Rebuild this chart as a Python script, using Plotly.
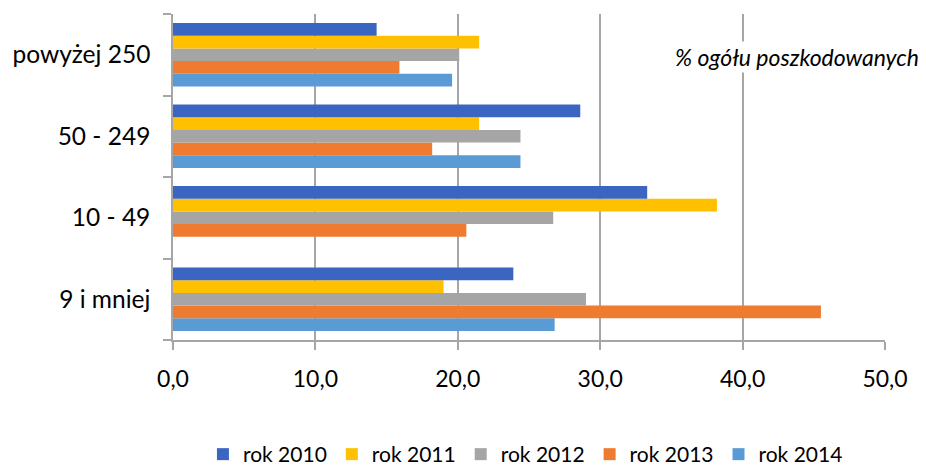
import plotly.graph_objects as go

categories = ["9 i mniej", "10 - 49", "50 - 249", "powyżej 250"]
series_names = ["rok 2010", "rok 2011", "rok 2012", "rok 2013", "rok 2014"]
rok_2010 = [23.9, 33.3, 28.6, 14.3]
rok_2011 = [19.0, 38.2, 21.5, 21.5]
rok_2012 = [29.0, 26.7, 24.4, 20.1]
rok_2013 = [45.5, 20.6, 18.2, 15.9]
rok_2014 = [26.8, None, 24.4, 19.6]
x_ticks = [0, 10, 20, 30, 40, 50]

colors = ["#3A66C2", "#FFC000", "#A5A5A5", "#EE7B30", "#5B9BD5"]
values = [rok_2010, rok_2011, rok_2012, rok_2013, rok_2014]

fig = go.Figure()
for name, vals, col in reversed(list(zip(series_names, values, colors))):
    fig.add_trace(go.Bar(
        y=categories, x=vals, name=name, orientation="h",
        marker=dict(color=col, line=dict(width=0)),
    ))

font_family = "Lato, 'Open Sans', sans-serif"
fig.update_layout(
    width=926, height=470,
    margin=dict(l=165, r=49, t=6, b=138),
    paper_bgcolor="white", plot_bgcolor="white",
    barmode="group", bargap=0.22, bargroupgap=0,
    separators=",.",
    font=dict(family=font_family, size=22, color="black"),
    xaxis=dict(
        range=[0, 50], tickvals=x_ticks, tickformat=".1f",
        showgrid=True, gridcolor="#A6A6A6", gridwidth=1.5,
        showline=True, linecolor="#A6A6A6", linewidth=1.5,
        ticks="outside", ticklen=8, tickcolor="#A6A6A6", tickwidth=1.5,
        zeroline=False, tickfont=dict(size=23), ticklabelstandoff=10,
        automargin=False,
    ),
    yaxis=dict(
        categoryorder="array", categoryarray=categories,
        showline=True, linecolor="#A6A6A6", linewidth=1.5,
        ticks="outside", ticklen=8, tickcolor="#A6A6A6", tickwidth=1.5,
        tickson="boundaries", ticklabelstandoff=16,
        showgrid=False, tickfont=dict(size=24.5), automargin=False,
    ),
    legend=dict(
        orientation="h", x=0.495, xanchor="center",
        yref="container", y=0.05, yanchor="middle",
        traceorder="reversed", font=dict(size=21), itemwidth=30,
        tracegroupgap=0,
    ),
    annotations=[dict(
        text="<i>% ogółu poszkodowanych</i>", xref="paper", yref="paper",
        x=0.876, y=0.868, xanchor="center", yanchor="middle", showarrow=False,
        font=dict(size=23), bgcolor="white",
    )],
)

fig.write_html("out.html")
